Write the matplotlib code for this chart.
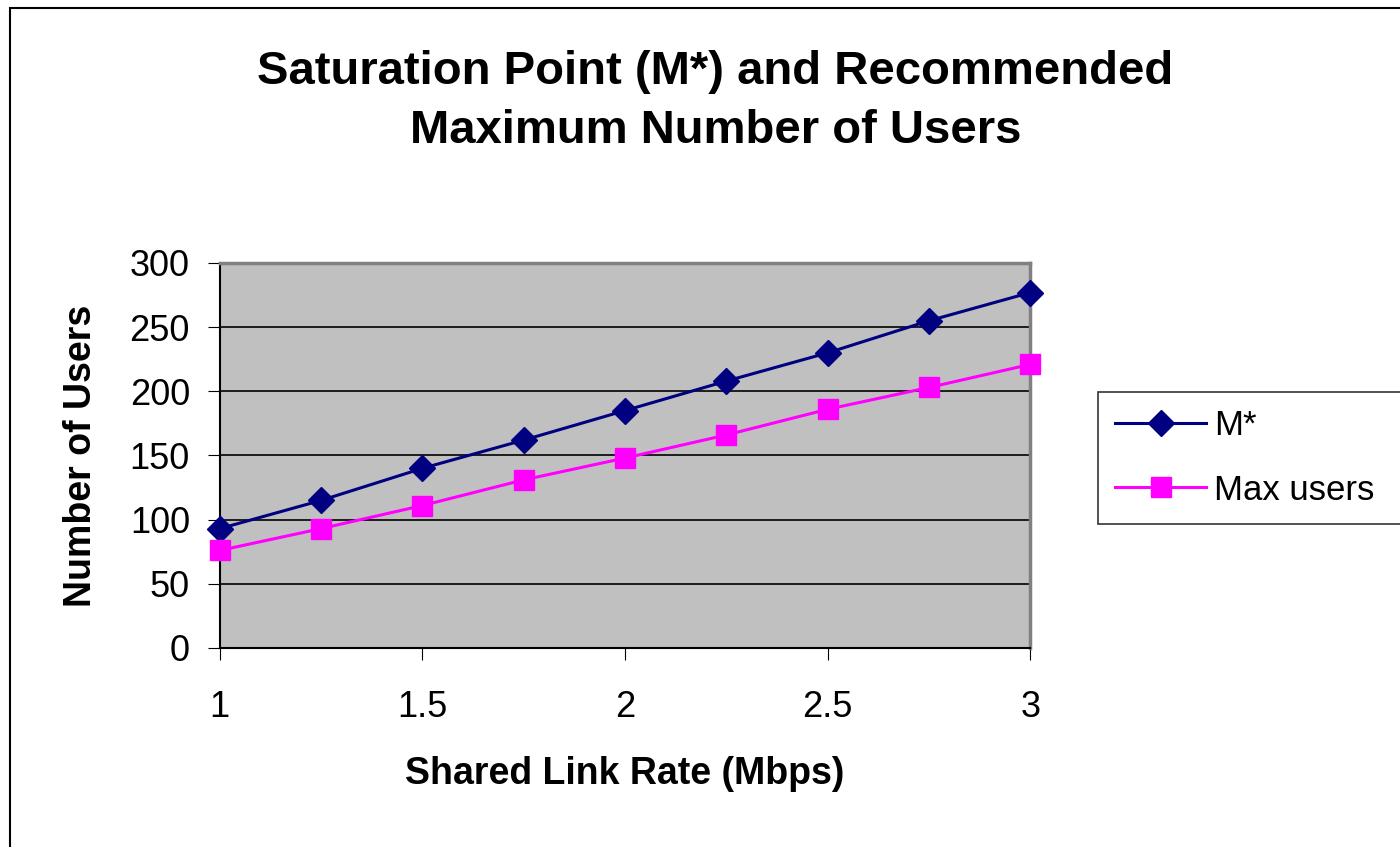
import matplotlib.pyplot as plt
from matplotlib.patches import Rectangle

plt.rcParams['font.family'] = ['Liberation Sans', 'DejaVu Sans']

# Input data
link_rate = [1, 1.25, 1.5, 1.75, 2, 2.25, 2.5, 2.75, 3]
m_star = [93, 115, 140, 162, 185, 208, 230, 255, 277]
max_users = [76, 93, 111, 131, 148, 166, 186, 203, 221]
x_ticks = [1, 1.5, 2, 2.5, 3]
y_ticks = [0, 50, 100, 150, 200, 250, 300]

fig = plt.figure(figsize=(14, 8.47), dpi=100)
ax = fig.add_axes([0.157, 0.235, 0.579, 0.4545])
ax.set_facecolor('#C0C0C0')

ax.plot(link_rate, m_star, color='#000080', marker='D', markersize=13,
        linewidth=2.2, label='M*', clip_on=False, zorder=3)
ax.plot(link_rate, max_users, color='#FF00FF', marker='s', markersize=14,
        linewidth=2.2, label='Max users', clip_on=False, zorder=3)

ax.set_xlim(1, 3)
ax.set_ylim(0, 300)
ax.set_xticks(x_ticks)
ax.set_xticklabels(['1', '1.5', '2', '2.5', '3'])
ax.set_yticks(y_ticks)
ax.yaxis.grid(True, color='black', linewidth=1.2)
ax.set_axisbelow(True)
ax.tick_params(axis='both', labelsize=26, length=8.5, color='black', direction='out')
ax.tick_params(axis='x', pad=22)
ax.tick_params(axis='y', pad=13)

for side in ['top', 'right']:
    ax.spines[side].set_color('#808080')
    ax.spines[side].set_linewidth(2.5)
for side in ['left', 'bottom']:
    ax.spines[side].set_color('black')
    ax.spines[side].set_linewidth(1.5)

ax.set_xlabel('Shared Link Rate (Mbps)', fontsize=27, fontweight='bold', labelpad=22)
ax.set_ylabel('Number of Users', fontsize=27, fontweight='bold', labelpad=22)

fig.text(0.511, 0.88, 'Saturation Point (M*) and Recommended\nMaximum Number of Users',
         ha='center', va='center', fontsize=34, fontweight='bold', linespacing=1.45)

leg = fig.legend(loc='upper left', bbox_to_anchor=(1098 / 1400, 1 - 392 / 847, 0.23, 0),
                 mode='expand', borderaxespad=0, fontsize=25, frameon=True,
                 fancybox=False, edgecolor='black', handlelength=2.6, borderpad=0.5,
                 labelspacing=0.9, handletextpad=0.25)
leg.get_frame().set_linewidth(1.2)

# outer chart border
fig.patches.append(Rectangle((0.007, -0.01), 1.1, 1.0, transform=fig.transFigure,
                             fill=False, edgecolor='black', linewidth=1.5))

plt.savefig("out.png")
